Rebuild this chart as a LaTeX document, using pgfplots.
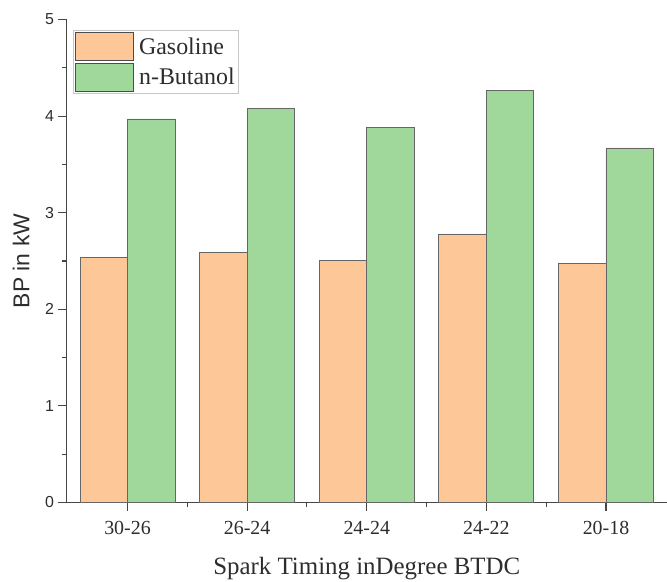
\documentclass[border=0pt]{standalone}
\usepackage{pgfplots}
\pgfplotsset{compat=1.18}
\usepackage{fontspec}
\setmainfont{Liberation Serif}
\setsansfont{Liberation Sans}
\definecolor{gas}{RGB}{253,199,151}
\definecolor{but}{RGB}{160,216,156}
\definecolor{axc}{RGB}{70,70,70}
\definecolor{txt}{RGB}{45,45,45}
\begin{document}
\begin{tikzpicture}
\path[use as bounding box] (-66.5bp,-79.5bp) rectangle (600.5bp,502.5bp);
\begin{axis}[
  at={(0,0)}, anchor=south west,
  scale only axis,
  width=600.5bp, height=483bp,
  ymin=0, ymax=5,
  xmin=-0.51, xmax=4.51,
  axis lines*=left,
  axis line style={axc, line width=1.2pt},
  ybar=0pt,
  bar width=47.5bp,
  xtick={0,1,2,3,4},
  xticklabels={30-26,26-24,24-24,24-22,20-18},
  minor xtick={0.5,1.5,2.5,3.5},
  ytick={0,1,2,3,4,5},
  minor ytick={0.5,1.5,2.5,3.5,4.5},
  tick style={axc, line width=1.1pt},
  major tick length=8bp,
  minor tick length=4bp,
  tick align=outside,
  xticklabel style={font=\fontsize{20}{20}\selectfont, text=txt, yshift=-7bp},
  yticklabel style={font=\sffamily\fontsize{16}{16}\selectfont, text=txt, xshift=-1bp},
  /pgf/number format/assume math mode=true,
  xlabel={Spark Timing inDegree BTDC},
  xlabel style={font=\fontsize{25}{25}\selectfont, text=txt, yshift=-16bp},
  ylabel={BP in kW},
  ylabel style={font=\sffamily\fontsize{23}{23}\selectfont, text=txt, yshift=9bp},
  legend style={at={(rel axis cs:0.0106,0.979)}, anchor=north west, draw=black!22, line width=0.9pt,
    font=\fontsize{24}{24}\selectfont, text=txt, inner sep=2bp, row sep=2bp, cells={anchor=west}},
  legend image code/.code={\draw[#1, draw=black!70, line width=0.8pt] (-2bp,-14bp) rectangle (56bp,14bp);},
  legend cell align=left,
  clip=false,
]
\addplot[fill=gas, draw=black!60, line width=0.8pt] coordinates {(0,2.54) (1,2.59) (2,2.51) (3,2.78) (4,2.47)};
\addlegendentry{\hspace{3bp}Gasoline}
\addplot[fill=but, draw=black!60, line width=0.8pt] coordinates {(0,3.97) (1,4.08) (2,3.88) (3,4.27) (4,3.67)};
\addlegendentry{\hspace{3bp}n-Butanol}
\end{axis}
\end{tikzpicture}
\end{document}
